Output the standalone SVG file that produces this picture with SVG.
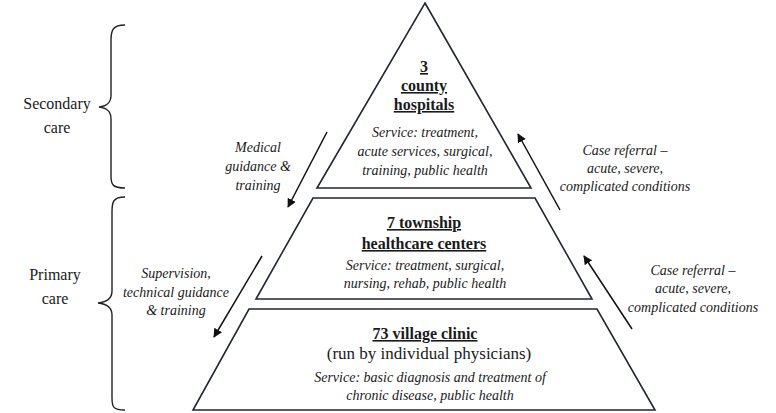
<svg xmlns="http://www.w3.org/2000/svg" width="776" height="413" viewBox="0 0 776 413">
<style>
.shape{fill:#fff;stroke:#222631;stroke-width:1.6;stroke-linejoin:miter}
.brace{fill:none;stroke:#222;stroke-width:1.4}
.conn{fill:none;stroke:#111;stroke-width:1.5}
text{fill:#1a1a1a;text-anchor:middle;font-family:'Liberation Serif','Liberation Sans',Arial,sans-serif}
.title{font-size:16px;font-weight:bold;text-decoration:underline}
.svc{font-size:14px;font-style:italic}
.side{font-size:16px}
.reg{font-size:17px}
</style>
<defs>
<marker id="ah" viewBox="0 0 10 10" refX="9" refY="5" markerWidth="9" markerHeight="9" markerUnits="userSpaceOnUse" orient="auto">
<path d="M0,0 L10,5 L0,10 z" fill="#111"/>
</marker>
</defs>
<rect width="776" height="413" fill="#fff"/>

<g id="brace-secondary">
<path class="brace" d="M125,25 C113,25 111,30 111,40 L111,95 C111,102 108,106 99,107 C108,108 111,112 111,119 L111,176 C111,185 113,188 125,188"/>
<text class="side" x="57" y="109">Secondary</text>
<text class="side" x="57" y="133">care</text>
</g>

<g id="brace-primary">
<path class="brace" d="M125,197 C113,197 112,202 112,212 L112,291 C112,298 108,302 98,303 C108,304 112,308 112,315 L112,398 C112,407 113,410 125,410"/>
<text class="side" x="55" y="280">Primary</text>
<text class="side" x="55" y="304">care</text>
</g>

<g id="county-hospitals">
<path class="shape" d="M425,3 L531,188 L317,188 Z"/>
<text class="title" x="424" y="72">3</text>
<text class="title" x="424" y="91">county</text>
<text class="title" x="424" y="110">hospitals</text>
<text class="svc" x="425" y="137">Service: treatment,</text>
<text class="svc" x="425" y="156">acute services, surgical,</text>
<text class="svc" x="425" y="175">training, public health</text>
</g>

<g id="township-centers">
<path class="shape" d="M313,198 L535,198 L592,299 L256,299 Z"/>
<text class="title" x="424" y="228">7 township</text>
<text class="title" x="424" y="249">healthcare centers</text>
<text class="svc" x="425" y="270">Service: treatment, surgical,</text>
<text class="svc" x="425" y="288">nursing, rehab, public health</text>
</g>

<g id="village-clinic">
<path class="shape" d="M249,309 L597,309 L655,410 L193,410 Z"/>
<text class="title" x="425" y="339">73 village clinic</text>
<text class="reg" x="429" y="359">(run by individual physicians)</text>
<text class="svc" x="430" y="382">Service: basic diagnosis and treatment of</text>
<text class="svc" x="430" y="400">chronic disease, public health</text>
</g>

<g id="connectors">
<line class="conn" x1="327" y1="132" x2="288" y2="207" marker-end="url(#ah)"/>
<line class="conn" x1="262" y1="256" x2="214" y2="337" marker-end="url(#ah)"/>
<line class="conn" x1="560" y1="210" x2="518" y2="134" marker-end="url(#ah)"/>
<line class="conn" x1="632" y1="329" x2="584" y2="256" marker-end="url(#ah)"/>
</g>

<g id="labels">
<text class="svc" x="258" y="152">Medical</text>
<text class="svc" x="258" y="171">guidance &amp;</text>
<text class="svc" x="258" y="190">training</text>
<text class="svc" x="176" y="278">Supervision,</text>
<text class="svc" x="176" y="297">technical guidance</text>
<text class="svc" x="176" y="315">&amp; training</text>
<text class="svc" x="625" y="155">Case referral –</text>
<text class="svc" x="625" y="173">acute, severe,</text>
<text class="svc" x="625" y="191">complicated conditions</text>
<text class="svc" x="693" y="275">Case referral –</text>
<text class="svc" x="693" y="293">acute, severe,</text>
<text class="svc" x="693" y="312">complicated conditions</text>
</g>
</svg>
